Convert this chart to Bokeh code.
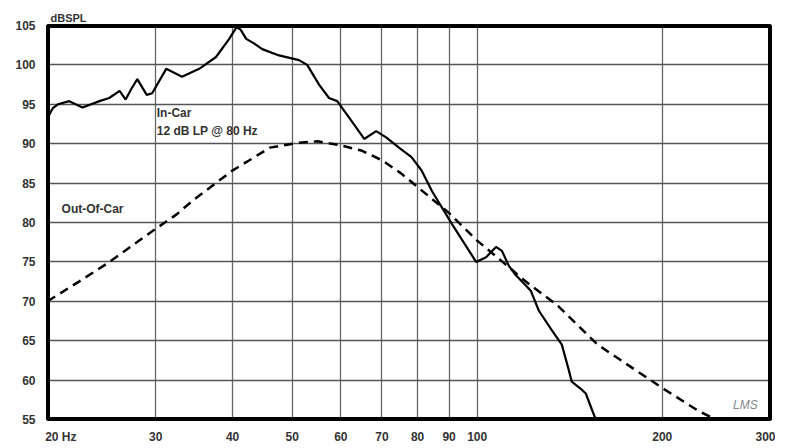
from bokeh.plotting import figure
from bokeh.models import FixedTicker, PrintfTickFormatter, Label, Span
from bokeh.embed import file_html
from bokeh.resources import INLINE

# In-Car response (12 dB LP @ 80 Hz)
incar_freq = [20.07, 20.4, 20.8, 21.7, 22.8, 24.3, 25.2, 26.2, 26.8, 27.4, 28.0, 29.0,
              29.6, 31.2, 33.1, 35.3, 37.6, 39.5, 40.6, 41.2, 42.1, 43.2, 44.7, 47.6,
              51.3, 52.9, 55.3, 57.4, 59.2, 61.9, 65.5, 68.5, 71.1, 74.6, 78.2, 81.2,
              84.4, 91.0, 99.6, 103.4, 107.3, 109.7, 112.6, 115.6, 120.0, 122.3, 126.0,
              132.3, 137.3, 140.9, 142.5, 147.4, 150.2, 153.6, 155.9]
incar_spl = [93.5, 94.5, 95.0, 95.4, 94.6, 95.4, 95.8, 96.7, 95.6, 97.0, 98.2, 96.2,
             96.4, 99.5, 98.5, 99.5, 101.0, 103.3, 104.8, 104.5, 103.3, 102.8, 102.0, 101.2,
             100.6, 100.0, 97.5, 95.8, 95.4, 93.3, 90.6, 91.6, 90.8, 89.5, 88.3, 86.6,
             84.0, 79.8, 75.0, 75.6, 76.9, 76.4, 74.5, 73.3, 72.0, 71.3, 68.8,
             66.3, 64.5, 61.3, 59.8, 58.9, 58.3, 56.3, 55.0]

# Out-Of-Car response
outcar_freq = [20, 22.5, 25, 30, 32.4, 34.6, 40, 42.6, 46, 51, 55, 60, 65, 70, 75, 80,
               90, 100, 110, 120, 135, 157, 200, 230, 243]
outcar_spl = [70.0, 72.5, 74.8, 79.2, 81.0, 82.9, 86.6, 87.9, 89.5, 90.1, 90.3, 89.8,
              89.1, 87.9, 86.3, 84.5, 81.2, 77.7, 75.0, 72.5, 69.5, 64.5, 59.0, 56.0, 55.1]

x_ticks = [20, 30, 40, 50, 60, 70, 80, 90, 100, 200, 300]
x_labels = ["\u00a0" * 8 + "20 Hz", "30", "40", "50", "60", "70", "80", "90", "100", "200", "300"]
y_ticks = [55, 60, 65, 70, 75, 80, 85, 90, 95, 100, 105]
x_min, x_max, y_min, y_max = 20, 300, 55, 105

FONT = "Liberation Sans"
FS = "12px"

p = figure(width=775, height=446, x_axis_type="log", x_range=(x_min, x_max), y_range=(y_min, y_max),
           output_backend="svg", toolbar_location=None, title="dBSPL",
           min_border_left=47, min_border_right=5, min_border_top=25, min_border_bottom=21)

p.title.text_font = FONT
p.title.text_font_size = "11px"
p.title.text_font_style = "bold"
p.title.text_color = "#333333"
p.title.offset = 3
p.title.standoff = 3

p.outline_line_color = "black"
p.outline_line_width = 3
p.outline_line_alpha = 1.0

p.xaxis.ticker = FixedTicker(ticks=x_ticks)
p.yaxis.ticker = FixedTicker(ticks=y_ticks)
p.xaxis.formatter = PrintfTickFormatter(format="%d")
p.xaxis.major_label_overrides = {t: s for t, s in zip(x_ticks, x_labels)}
for ax in (p.xaxis, p.yaxis):
    ax.axis_line_color = None
    ax.major_tick_line_color = None
    ax.minor_tick_line_color = None
    ax.major_label_text_font = FONT
    ax.major_label_text_font_size = FS
    ax.major_label_text_font_style = "bold"
    ax.major_label_text_color = "#333333"
p.xaxis.major_label_standoff = 4
p.yaxis.major_label_standoff = 6

p.xgrid.grid_line_color = "#666666"
p.xgrid.grid_line_width = 1.3
p.ygrid.grid_line_color = "#555555"
p.ygrid.grid_line_width = 1.5
p.xgrid.minor_grid_line_color = None

p.line(outcar_freq, outcar_spl, line_color="black", line_width=2.5, line_dash="9 6")
p.line(incar_freq, incar_spl, line_color="black", line_width=2.2)

# frame border
for loc, dim in ((x_min, "height"), (x_max, "height"), (y_min, "width"), (y_max, "width")):
    p.add_layout(Span(location=loc, dimension=dim, line_color="black", line_width=5))

def lab(x, y, text, **kw):
    opts = dict(text_font=FONT, text_font_size=FS, text_font_style="bold",
                text_color="#333333", text_baseline="middle", text_align="left")
    opts.update(kw)
    p.add_layout(Label(x=x, y=y, text=text, **opts))

lab(30, 93.9, "In-Car", x_offset=1)
lab(30, 91.6, "12 dB LP @ 80 Hz", x_offset=1)
lab(21.08, 81.75, "Out-Of-Car")
lab(273, 56.9, "LMS", text_align="center", text_font_style="italic",
    text_font_size="12px", text_color="#888888")

open("out.html", "w").write(file_html(p, INLINE))
